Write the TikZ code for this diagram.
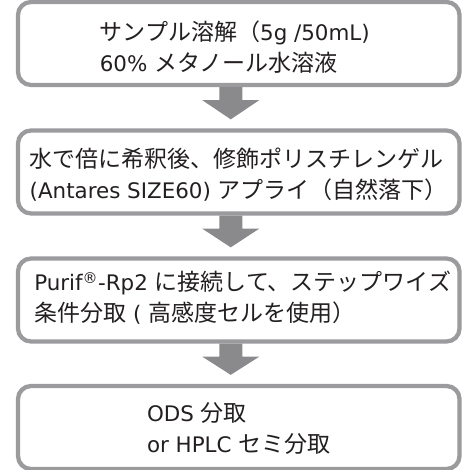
\documentclass[tikz,border=0pt]{standalone}
\usepackage{fontspec}
\setmainfont{DejaVu Sans}
\newfontfamily\jp[Scale=1.075]{Noto Sans CJK JP}
\usetikzlibrary{calc}
\definecolor{boxline}{RGB}{155,155,158}
\definecolor{arrowc}{RGB}{138,138,140}
\definecolor{txt}{RGB}{35,31,32}
\tikzset{
  stepbox/.style={draw=boxline, line width=4.3pt, rounded corners=13pt, fill=white,
    minimum width=441.5pt, minimum height=83pt, inner sep=0pt},
  steptext/.style={inner sep=0pt, align=left, text=txt,
    font=\fontsize{21.4}{31}\selectfont},
  blockarrow/.style={fill=arrowc, draw=none}
}
\newcommand{\flowarrow}[2]{%
  \fill[blockarrow] ($(#1.south)+(-19.5,0)$) -- ($(#1.south)+(3.5,0)$)
    -- ($(#1.south)+(3.5,13)$) -- ($(#1.south)+(20.5,13)$)
    -- ($(#2.north)+(-8,-9)$)
    -- ($(#1.south)+(-36.5,13)$) -- ($(#1.south)+(-19.5,13)$) -- cycle;}
\begin{document}
\begin{tikzpicture}[x=1pt,y=-1pt]
\useasboundingbox (0,0) rectangle (463,470);
\node[stepbox] (b1) at (238.75,43.5) {};
\node[stepbox] (b2) at (238.75,172) {};
\node[stepbox] (b3) at (238.75,300) {};
\node[stepbox] (b4) at (238.75,427.5) {};
\node[steptext] (t1) at ($(b1.center)+(-4,4)$) {{\jp サンプル溶解（}5g /50mL)\\60\% {\jp メタノール水溶液}};
\node[steptext] (t2) at ($(b2.center)+(0,3)$) {{\jp 水で倍に希釈後、修飾ポリスチレンゲル}\\(Antares SIZE60) {\jp アプライ（自然落下）}};
\node[steptext] (t3) at ($(b3.center)+(4,-2)$) {Purif\textsuperscript{®}-Rp2 {\jp に接続して、ステップワイズ}\\{\jp 条件分取} ( {\jp 高感度セルを使用）}};
\node[steptext] (t4) at ($(b4.center)+(0,1)$) {ODS {\jp 分取}\\or HPLC {\jp セミ分取}};
\flowarrow{b1}{b2}
\flowarrow{b2}{b3}
\flowarrow{b3}{b4}
\end{tikzpicture}
\end{document}
